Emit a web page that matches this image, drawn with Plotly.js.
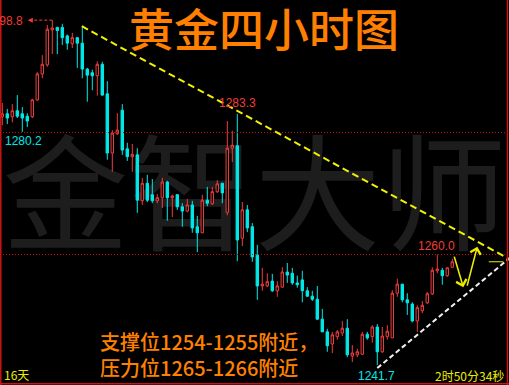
<!DOCTYPE html>
<html>
<head>
<meta charset="utf-8">
<script src="https://cdn.plot.ly/plotly-3.0.1.min.js"></script>
<style>
  html, body { margin: 0; padding: 0; background: #000; overflow: hidden; }
  #chart { width: 509px; height: 385px; }
</style>
</head>
<body>
<div id="chart"></div>
<script>
// Gold, 4-hour bars (oldest first)
const opens = [
  1282.8,1283.3,1282.8,1283.8,1283.3,1282.9,1282.8,1285.6,1289.9,1291.4,
  1297.2,1297.6,1297.6,1296.2,1294.9,1295.9,1295.0,1290.7,1290.1,1289.6,
  1291.5,1286.6,1276.8,1280.0,1283.9,1277.5,1276.2,1276.5,1268.9,1271.8,
  1269.9,1268.9,1269.4,1272.0,1269.4,1269.9,1267.9,1267.2,1268.2,1264.6,
  1263.6,1269.0,1268.4,1270.4,1271.8,1267.0,1277.6,1278.0,1262.7,1267.4,
  1264.6,1259.9,1254.8,1254.8,1255.6,1254.0,1254.6,1257.1,1256.9,1255.3,
  1255.8,1254.0,1253.1,1252.6,1249.3,1247.2,1245.2,1246.4,1247.0,1247.8,
  1243.2,1243.4,1243.5,1246.8,1246.4,1248.0,1243.9,1246.4,1246.2,1253.6,
  1255.1,1252.5,1251.8,1249.0,1250.7,1252.0,1253.5,1257.3,1257.4,1256.5,
  1257.9
];
const highs = [
  1285.1,1284.1,1284.9,1286.4,1284.4,1283.4,1285.8,1290.2,1293.0,1298.0,
  1298.8,1297.7,1298.2,1296.4,1296.7,1296.0,1297.7,1290.9,1290.6,1292.0,
  1291.9,1288.7,1280.6,1283.4,1284.9,1278.5,1278.3,1277.6,1272.7,1273.2,
  1272.5,1270.0,1272.7,1272.2,1269.9,1270.0,1268.5,1269.2,1268.9,1266.4,
  1269.9,1271.2,1271.2,1272.3,1271.8,1282.1,1280.5,1283.3,1268.7,1268.2,
  1265.2,1261.6,1257.8,1256.9,1256.8,1255.6,1257.9,1258.6,1257.8,1256.5,
  1257.3,1254.6,1254.0,1254.8,1251.0,1247.7,1247.2,1247.5,1249.0,1249.3,
  1245.0,1244.4,1247.2,1247.2,1248.3,1248.5,1248.0,1248.3,1254.1,1256.0,
  1255.1,1253.6,1252.1,1251.6,1252.3,1253.8,1257.9,1260.0,1257.8,1257.9,
  1259.3
];
const lows = [
  1281.4,1281.6,1281.9,1282.6,1280.3,1281.1,1282.6,1285.4,1289.2,1291.1,
  1293.2,1293.2,1294.7,1293.9,1294.2,1290.9,1289.2,1285.3,1287.2,1286.3,
  1286.3,1275.7,1273.7,1279.8,1276.5,1275.5,1273.7,1266.9,1268.2,1268.7,
  1268.5,1268.5,1267.7,1265.6,1266.2,1267.4,1264.6,1267.0,1263.6,1260.4,
  1263.6,1268.0,1268.2,1270.2,1268.5,1266.5,1275.3,1258.9,1261.4,1263.7,
  1258.8,1252.5,1254.0,1254.6,1253.8,1253.0,1254.5,1255.3,1255.0,1254.5,
  1252.1,1253.0,1252.3,1249.2,1247.2,1243.9,1243.7,1245.9,1246.5,1243.0,
  1242.2,1243.0,1243.4,1245.9,1245.4,1241.7,1243.7,1245.9,1246.2,1253.0,
  1252.1,1250.0,1248.8,1247.2,1250.3,1251.8,1253.3,1256.9,1255.0,1256.3,
  1257.8
];
const closes = [
  1283.3,1282.6,1283.8,1282.9,1282.6,1282.1,1285.6,1289.9,1291.5,1297.3,
  1297.5,1297.1,1295.9,1295.0,1295.9,1295.0,1290.7,1289.7,1289.6,1291.5,
  1286.4,1276.8,1280.1,1280.6,1277.3,1276.2,1276.6,1269.0,1271.8,1269.0,
  1268.9,1269.4,1272.0,1269.4,1269.7,1267.9,1267.2,1268.2,1264.4,1263.6,
  1269.0,1268.5,1270.4,1271.7,1270.2,1277.6,1278.1,1262.4,1267.4,1264.4,
  1259.6,1254.8,1255.1,1255.5,1254.0,1254.8,1257.1,1256.6,1255.3,1255.0,
  1254.0,1253.1,1252.6,1249.3,1247.2,1244.9,1246.7,1247.2,1247.8,1243.4,
  1243.7,1243.9,1246.8,1246.2,1248.0,1243.9,1246.5,1247.3,1253.6,1255.1,
  1252.5,1252.0,1249.0,1251.2,1251.6,1253.5,1257.4,1257.6,1256.5,1257.8,
  1258.8
];

// Horizontal reference levels
const levels = [1280.2, 1260.0];

// Hand-drawn trend lines: [bar index, price] end points
const resistanceLine = [[15.9, 1297.8], [101.3, 1259.3]];
const supportLine = [[75.0, 1241.2], [101.3, 1259.3]];

// Expected swing: down to support then up
const swingPath = [[90.3, 1259.9], [92.2, 1254.6], [92.9, 1254.6], [95.0, 1261.3]];

const titleText = '黄金四小时图';
const watermarkText = '金智大师';
const noteText = '支撑位1254-1255附近，<br>压力位1265-1266附近';
const periodText = '16天';
const countdownText = '2时50分34秒';

const bars = opens.map((_, i) => i);

const RED = '#f03c3c';
const CYAN = '#00e8e8';
const ORANGE = '#ff8000';
const YELLOW = '#ecec00';
const CJK = 'Noto Sans CJK SC';
const NUM = 'Liberation Sans, Arial, sans-serif';

function extremeIndex(arr, from, to, better) {
  let k = from;
  for (let i = from; i <= to; i++) if (better(arr[i], arr[k])) k = i;
  return k;
}
const iTop = extremeIndex(highs, 0, highs.length - 1, (a, b) => a > b);
const iBottom = extremeIndex(lows, 0, lows.length - 1, (a, b) => a < b);
const iMidHigh = extremeIndex(highs, 40, 60, (a, b) => a > b);
const iLastHigh = extremeIndex(highs, 80, highs.length - 1, (a, b) => a > b);

const trace = {
  type: 'candlestick',
  x: bars, open: opens, high: highs, low: lows, close: closes,
  increasing: { line: { color: RED, width: 1 }, fillcolor: '#000000' },
  decreasing: { line: { color: CYAN, width: 1 }, fillcolor: CYAN },
  whiskerwidth: 0,
  hoverinfo: 'skip'
};

const shapes = [];

// watermark behind the bars
shapes.push({
  type: 'rect', xref: 'paper', yref: 'paper', x0: 0, x1: 1, y0: 0.265, y1: 0.665,
  line: { width: 0 }, fillcolor: 'rgba(0,0,0,0)', layer: 'below',
  label: { text: watermarkText, textposition: 'middle center',
           font: { family: CJK, size: 126, color: '#1d1d1d' } }
});

// level lines
levels.forEach(v => shapes.push({
  type: 'line', xref: 'paper', yref: 'y', x0: 0, x1: 1, y0: v, y1: v,
  line: { color: '#c81010', width: 1, dash: '1px,2px' }
}));

// trend lines
shapes.push({
  type: 'line', xref: 'x', yref: 'y',
  x0: resistanceLine[0][0], y0: resistanceLine[0][1],
  x1: resistanceLine[1][0], y1: resistanceLine[1][1],
  line: { color: '#f2f200', width: 2, dash: '7px,4px' }
});
shapes.push({
  type: 'line', xref: 'x', yref: 'y',
  x0: supportLine[0][0], y0: supportLine[0][1],
  x1: supportLine[1][0], y1: supportLine[1][1],
  line: { color: '#f0f0f0', width: 2, dash: '5px,3px' }
});
// short marker near the apex
shapes.push({
  type: 'line', xref: 'x', yref: 'y', x0: 97.3, x1: 100.2, y0: 1258.8, y1: 1258.8,
  line: { color: YELLOW, width: 1 }
});

// pointer from the top bar to its price tag
shapes.push({
  type: 'line', xref: 'x', yref: 'y', x0: iTop - 4.6, x1: iTop, y0: highs[iTop], y1: highs[iTop],
  line: { color: RED, width: 1, dash: '3px,2px' }
});

// frame
const frame = { color: '#c81414', width: 1.5 };
shapes.push({ type: 'line', xref: 'paper', yref: 'paper', x0: 0.0015, x1: 0.0015, y0: 0, y1: 1, line: frame });
shapes.push({ type: 'line', xref: 'paper', yref: 'paper', x0: 0.997, x1: 0.997, y0: 0, y1: 1, line: frame });
shapes.push({ type: 'line', xref: 'paper', yref: 'paper', x0: 0, x1: 1, y0: 0.003, y1: 0.003, line: frame });

const annotations = [
  { text: titleText, xref: 'paper', yref: 'paper', x: 0.519, y: 0.928,
    xanchor: 'center', yanchor: 'middle', showarrow: false,
    font: { family: CJK, size: 45, color: ORANGE, weight: 500 } },
  { text: noteText, xref: 'paper', yref: 'paper', x: 0.193, y: 0.08,
    xanchor: 'left', yanchor: 'middle', align: 'left', showarrow: false,
    font: { family: CJK, size: 20, color: ORANGE, weight: 500 } },
  { text: periodText, xref: 'paper', yref: 'paper', x: 0.003, y: 0.026,
    xanchor: 'left', yanchor: 'middle', showarrow: false,
    font: { family: CJK, size: 12, color: YELLOW } },
  { text: countdownText, xref: 'paper', yref: 'paper', x: 0.995, y: 0.025,
    xanchor: 'right', yanchor: 'middle', showarrow: false,
    font: { family: CJK, size: 12, color: YELLOW } },

  // price tags
  { text: highs[iTop].toFixed(1), xref: 'x', yref: 'y', x: iTop - 6.05, y: highs[iTop],
    xanchor: 'right', yanchor: 'middle', xshift: 3, yshift: -1, showarrow: false,
    font: { family: NUM, size: 12, color: RED } },
  { text: '', xref: 'x', yref: 'y', x: iTop - 4.9, y: highs[iTop],
    showarrow: true, ax: 6, ay: 0, arrowhead: 2, arrowsize: 1, arrowwidth: 1, arrowcolor: RED },
  { text: highs[iMidHigh].toFixed(1), xref: 'x', yref: 'y', x: iMidHigh, y: highs[iMidHigh],
    xanchor: 'center', yanchor: 'middle', yshift: 11, showarrow: false,
    font: { family: NUM, size: 12, color: RED } },
  { text: highs[iLastHigh].toFixed(1), xref: 'x', yref: 'y', x: iLastHigh - 0.25, y: highs[iLastHigh],
    xanchor: 'center', yanchor: 'middle', yshift: 9, showarrow: false,
    font: { family: NUM, size: 12, color: RED } },
  { text: lows[iBottom].toFixed(1), xref: 'x', yref: 'y', x: iBottom - 0.15, y: lows[iBottom],
    xanchor: 'center', yanchor: 'middle', yshift: -11, showarrow: false,
    font: { family: NUM, size: 12, color: CYAN } },
  { text: levels[0].toFixed(1), xref: 'paper', yref: 'y', x: 0.006, y: levels[0],
    xanchor: 'left', yanchor: 'middle', yshift: -8, showarrow: false,
    font: { family: NUM, size: 12, color: CYAN } }
];

// swing arrows
for (let k = 0; k < swingPath.length; k += 2) {
  annotations.push({
    text: '', xref: 'x', yref: 'y', axref: 'x', ayref: 'y',
    x: swingPath[k + 1][0], y: swingPath[k + 1][1],
    ax: swingPath[k][0], ay: swingPath[k][1],
    showarrow: true, arrowhead: 4, arrowsize: 1.3, arrowwidth: 1.6, arrowcolor: YELLOW, standoff: 0
  });
}

const layout = {
  width: 509, height: 385,
  margin: { l: 0, r: 0, t: 0, b: 0 },
  paper_bgcolor: '#000000', plot_bgcolor: '#000000',
  showlegend: false, hovermode: false, dragmode: false,
  boxgap: 0.3,
  xaxis: { range: [-0.46, 101.34], visible: false, fixedrange: true, rangeslider: { visible: false } },
  yaxis: { range: [1238.4, 1302.14], visible: false, fixedrange: true },
  shapes: shapes,
  annotations: annotations
};

Plotly.newPlot('chart', [trace], layout, { staticPlot: true, displayModeBar: false });
</script>
</body>
</html>
